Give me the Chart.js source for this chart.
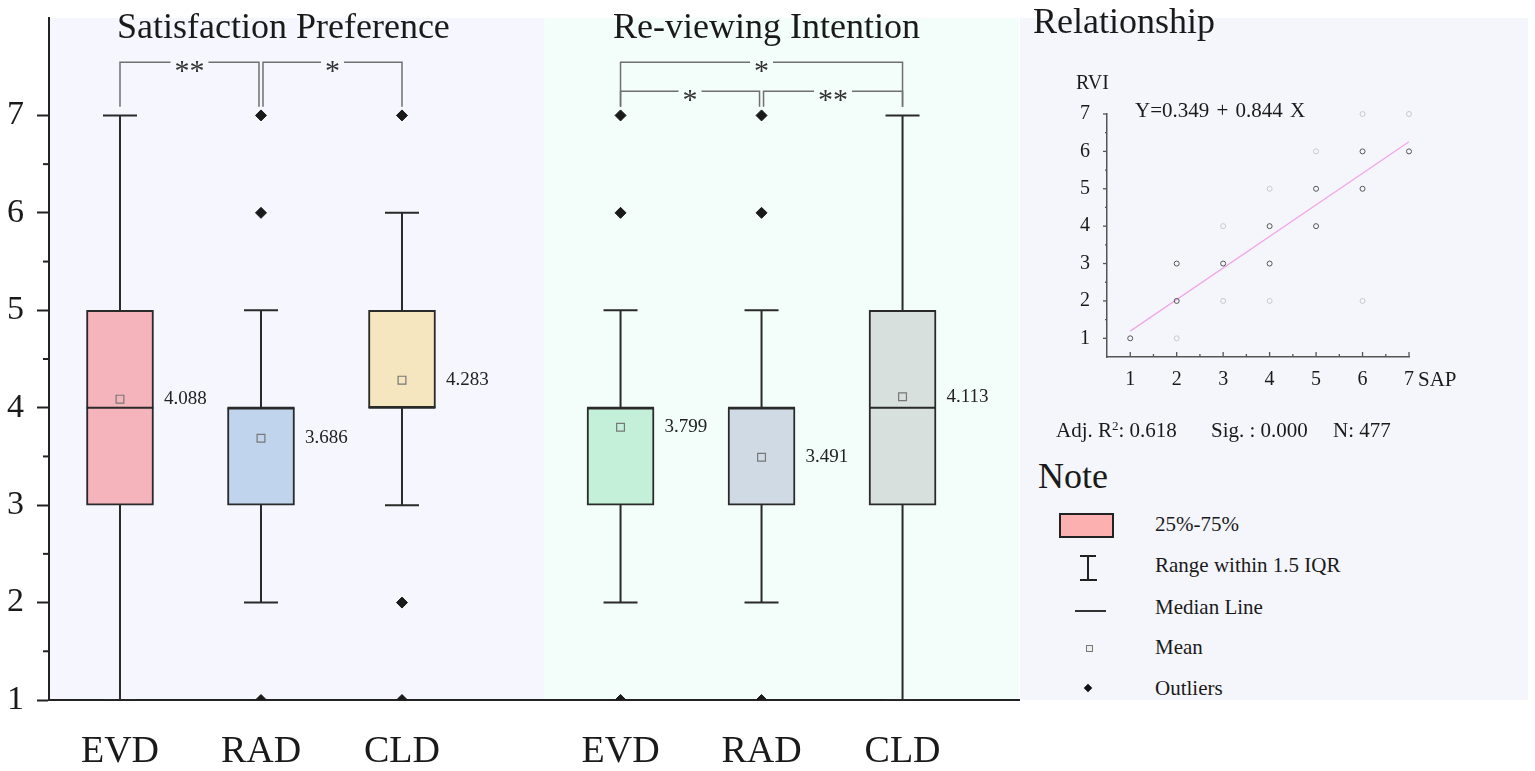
<!DOCTYPE html>
<html>
<head>
<meta charset="utf-8">
<script src="https://cdn.jsdelivr.net/npm/chart.js@4.4.0/dist/chart.umd.min.js"></script>
<style>
body { margin:0; background:#fff; }
#wrap { position:relative; width:1535px; height:771px; overflow:hidden; font-family:"Liberation Serif","Times New Roman",serif; color:#1a1a1a; }
#wrap canvas { position:absolute; }
.t { position:absolute; line-height:1; white-space:pre; }
.bg { position:absolute; }
</style>
</head>
<body>
<div id="wrap">
  <div class="bg" style="left:1020px;top:18px;width:508px;height:682px;background:#F5F6FC"></div>
  <canvas id="main" width="1020" height="771" style="left:0;top:0"></canvas>
  <canvas id="rel" width="508" height="380" style="left:1020px;top:40px"></canvas>

  <div class="t" style="left:117px;top:8px;font-size:36px">Satisfaction Preference</div>
  <div class="t" style="left:613px;top:8px;font-size:36px">Re-viewing Intention</div>
  <div class="t" style="left:1033px;top:3px;font-size:36px">Relationship</div>

  <div class="t" style="left:1076px;top:72px;font-size:20px">RVI</div>
  <div class="t" style="left:1135px;top:100px;font-size:21px;word-spacing:2px">Y=0.349 + 0.844 X</div>
  <div class="t" style="left:1418px;top:369px;font-size:21px">SAP</div>

  <div class="t" style="left:1056px;top:420px;font-size:21px">Adj. R<sup style="font-size:13px;vertical-align:7px;line-height:0">2</sup>: 0.618</div>
  <div class="t" style="left:1211px;top:420px;font-size:21px">Sig. : 0.000</div>
  <div class="t" style="left:1333px;top:420px;font-size:21px">N: 477</div>

  <div class="t" style="left:1038px;top:458px;font-size:36px">Note</div>

  <div class="bg" style="left:1059px;top:513px;width:55px;height:25px;background:#FCB0B0;border:2px solid #222;box-sizing:border-box"></div>
  <div class="bg" style="left:1087px;top:555px;width:2px;height:26px;background:#222"></div>
  <div class="bg" style="left:1080px;top:555px;width:16px;height:2px;background:#222"></div>
  <div class="bg" style="left:1080px;top:579px;width:17px;height:2px;background:#222"></div>
  <div class="bg" style="left:1075px;top:610px;width:31px;height:2px;background:#333"></div>
  <div class="bg" style="left:1086px;top:645px;width:7px;height:7px;background:#eee;border:1px solid #777;box-sizing:border-box"></div>
  <div class="bg" style="left:1085px;top:685px;width:6px;height:6px;background:#111;transform:rotate(45deg)"></div>

  <div class="t" style="left:1155px;top:514px;font-size:21px">25%-75%</div>
  <div class="t" style="left:1155px;top:555px;font-size:21px">Range within 1.5 IQR</div>
  <div class="t" style="left:1155px;top:597px;font-size:21px">Median Line</div>
  <div class="t" style="left:1155px;top:637px;font-size:21px">Mean</div>
  <div class="t" style="left:1155px;top:678px;font-size:21px">Outliers</div>
</div>
<script>
// box plot data
const categories = ['EVD', 'RAD', 'CLD', 'EVD', 'RAD', 'CLD'];
const whiskerLow = [1, 2, 3, 2, 2, 1];
const q1 = [3, 3, 4, 3, 3, 3];
const medians = [4, 4, 4, 4, 4, 4];
const q3 = [5, 4, 5, 4, 4, 5];
const whiskerHigh = [7, 5, 6, 5, 5, 7];
const means = [4.088, 3.686, 4.283, 3.799, 3.491, 4.113];
const outliers = [[], [1, 6, 7], [1, 2, 7], [1, 6, 7], [1, 6, 7], []];
const boxColors = ['#F5B4BC', '#C0D4EE', '#F6E6C0', '#C4F0DA', '#D0DAE4', '#D8E0DE'];
const yTicks = [1, 2, 3, 4, 5, 6, 7];

// significance brackets
const sigFrom = [0, 1, 3, 3, 4];
const sigTo = [1, 2, 5, 4, 5];
const sigStars = ['**', '*', '*', '*', '**'];
const sigLevel = [1, 1, 1, 0, 0];

// relationship scatter
const darkX = [1, 2, 2, 3, 4, 4, 5, 5, 6, 6, 7];
const darkY = [1, 2, 3, 3, 3, 4, 4, 5, 5, 6, 6];
const lightX = [2, 3, 3, 4, 4, 5, 6, 6, 7];
const lightY = [1, 2, 4, 2, 5, 6, 2, 7, 7];
const regX = [1, 7];
const regY = [1.193, 6.257];
const relTicks = [1, 2, 3, 4, 5, 6, 7];

Chart.defaults.font.family = '"Liberation Serif", "Times New Roman", serif';
Chart.defaults.color = '#1a1a1a';

const X_MIN = 0.4965, X_MAX = 7.376;
const UNIT_PX = 970 / (X_MAX - X_MIN);
const boxHalf = 33.5 / UNIT_PX;
const capHalf = 17 / UNIT_PX;
const PANEL_SPLIT = 4.01;
const xPos = categories.map((c, i) => i + 1 + (i >= 3 ? 0.55 : 0));

let stems = [], caps = [], medLines = [], outPts = [];
xPos.forEach((x, i) => {
  stems.push({x, y: whiskerLow[i]}, {x, y: whiskerHigh[i]}, {x, y: null});
  caps.push({x: x - capHalf, y: whiskerHigh[i]}, {x: x + capHalf, y: whiskerHigh[i]}, {x, y: null});
  caps.push({x: x - capHalf, y: whiskerLow[i]}, {x: x + capHalf, y: whiskerLow[i]}, {x, y: null});
  medLines.push({x: x - boxHalf, y: medians[i]}, {x: x + boxHalf, y: medians[i]}, {x, y: null});
  outliers[i].forEach(v => outPts.push({x, y: v}));
});

const lineStyle = {type: 'line', borderColor: '#2a2a2a', borderWidth: 2, pointRadius: 0, spanGaps: false, tension: 0};

// no label padding around the axes, the layout is fixed
const noPad = s => { s.paddingTop = 0; s.paddingBottom = 0; s.paddingLeft = 0; s.paddingRight = 0; };

const panelPlugin = {
  id: 'panels',
  beforeDraw(chart) {
    const {ctx, chartArea: a, scales: {x}} = chart;
    const split = x.getPixelForValue(PANEL_SPLIT);
    ctx.save();
    ctx.fillStyle = '#F5F6FE';
    ctx.fillRect(a.left, a.top, split - a.left, a.bottom - a.top);
    ctx.fillStyle = '#F3FDFA';
    ctx.fillRect(split, a.top, a.right - split, a.bottom - a.top);
    ctx.restore();
  }
};

const notePlugin = {
  id: 'notes',
  afterDatasetsDraw(chart) {
    const {ctx, scales: {x, y}} = chart;
    ctx.save();
    // mean labels
    ctx.font = '19px "Liberation Serif", serif';
    ctx.fillStyle = '#222';
    ctx.textBaseline = 'middle';
    ctx.textAlign = 'left';
    means.forEach((m, i) => {
      ctx.fillText(m.toFixed(3), x.getPixelForValue(xPos[i]) + 44, y.getPixelForValue(m));
    });
    // brackets
    ctx.strokeStyle = '#707070';
    ctx.lineWidth = 1.5;
    ctx.font = '30px "Liberation Serif", serif';
    ctx.textAlign = 'center';
    ctx.textBaseline = 'alphabetic';
    const yBot = y.getPixelForValue(7.09);
    sigFrom.forEach((f, k) => {
      const t = sigTo[k];
      let x1 = x.getPixelForValue(xPos[f]);
      let x2 = x.getPixelForValue(xPos[t]);
      if (sigFrom.some((ff, j) => j !== k && ff === t && sigLevel[j] === sigLevel[k])) x2 -= 2;
      if (sigTo.some((tt, j) => j !== k && tt === f && sigLevel[j] === sigLevel[k])) x1 += 2;
      const yTop = y.getPixelForValue(7.247 + 0.298 * sigLevel[k]);
      const mid = (x1 + x2) / 2;
      const half = ctx.measureText(sigStars[k]).width / 2 + 4;
      ctx.beginPath();
      ctx.moveTo(x1, yBot); ctx.lineTo(x1, yTop); ctx.lineTo(mid - half, yTop);
      ctx.moveTo(mid + half, yTop); ctx.lineTo(x2, yTop); ctx.lineTo(x2, yBot);
      ctx.stroke();
      ctx.fillStyle = '#333';
      ctx.fillText(sigStars[k], mid, yTop + 18);
    });
    ctx.restore();
  },
  afterDraw(chart) {
    const {ctx, scales: {y}} = chart;
    ctx.save();
    ctx.strokeStyle = '#222';
    ctx.lineWidth = 2;
    for (let v = 1.5; v < 7; v += 1) {
      const py = y.getPixelForValue(v);
      ctx.beginPath(); ctx.moveTo(y.right - 6, py); ctx.lineTo(y.right, py); ctx.stroke();
    }
    ctx.restore();
  }
};

new Chart(document.getElementById('main'), {
  type: 'bar',
  data: {
    datasets: [
      Object.assign({}, lineStyle, {data: stems, order: 3}),
      Object.assign({}, lineStyle, {data: caps, order: 3}),
      {
        type: 'bar', order: 2,
        data: xPos.map((x, i) => ({x, y: [q1[i], q3[i]]})),
        backgroundColor: boxColors, borderColor: '#2a2a2a', borderWidth: 2,
        borderSkipped: false, barThickness: 67
      },
      Object.assign({}, lineStyle, {data: medLines, order: 1}),
      {
        type: 'line', showLine: false, order: 1,
        data: xPos.map((x, i) => ({x, y: means[i]})),
        pointStyle: 'rect', pointRadius: 5.5,
        pointBackgroundColor: boxColors, pointBorderColor: '#777', pointBorderWidth: 1.2
      },
      {
        type: 'line', showLine: false, order: 0, clip: 0,
        data: outPts, pointStyle: 'rectRot', pointRadius: 5.5,
        pointBackgroundColor: '#1a1a1a', pointBorderColor: '#1a1a1a', pointBorderWidth: 1
      }
    ]
  },
  options: {
    responsive: false,
    animation: false,
    layout: {autoPadding: false, padding: {top: 18, right: 1, left: 0, bottom: 0}},
    plugins: {legend: {display: false}, tooltip: {enabled: false}},
    scales: {
      x: {
        type: 'linear', min: X_MIN, max: X_MAX, offset: false,
        afterBuildTicks: s => { s.ticks = xPos.map(v => ({value: v})); },
        afterFit: s => { s.height = 71; noPad(s); },
        grid: {drawOnChartArea: false, drawTicks: false, offset: false},
        border: {color: '#222', width: 2},
        ticks: {autoSkip: false, maxRotation: 0, padding: 29, font: {size: 38}, callback: (v, i) => categories[i]}
      },
      y: {
        min: 1, max: 8,
        afterBuildTicks: s => { s.ticks = yTicks.map(v => ({value: v})); },
        afterFit: s => { s.width = 49; noPad(s); },
        grid: {drawOnChartArea: false, tickLength: 12, tickColor: '#222', tickWidth: 2},
        border: {color: '#222', width: 2},
        ticks: {padding: 13, font: {size: 34}}
      }
    }
  },
  plugins: [panelPlugin, notePlugin]
});

const relTickPlugin = {
  id: 'relTicks',
  afterDraw(chart) {
    const {ctx, scales: {x, y}} = chart;
    ctx.save();
    ctx.strokeStyle = '#555';
    ctx.lineWidth = 1.3;
    for (let v = 1; v <= 7; v += 0.5) {
      const major = v % 1 === 0;
      const px = x.getPixelForValue(v);
      ctx.beginPath(); ctx.moveTo(px, x.top); ctx.lineTo(px, x.top - (major ? 5 : 3)); ctx.stroke();
      const py = y.getPixelForValue(v);
      ctx.beginPath(); ctx.moveTo(y.right, py); ctx.lineTo(y.right - (major ? 4 : 2), py); ctx.stroke();
    }
    ctx.restore();
  }
};

const relAxis = (size) => ({
  type: 'linear', min: 0.5, max: 7,
  afterBuildTicks: s => { s.ticks = relTicks.map(v => ({value: v})); },
  grid: {drawOnChartArea: false, drawTicks: false},
  border: {color: '#555', width: 1.5},
  ticks: {font: {size: 20}, padding: size}
});

new Chart(document.getElementById('rel'), {
  type: 'scatter',
  data: {
    datasets: [
      {
        data: regX.map((x, i) => ({x, y: regY[i]})), showLine: true, order: 3,
        borderColor: '#F0A8E8', borderWidth: 1.3, pointRadius: 0
      },
      {
        data: lightX.map((x, i) => ({x, y: lightY[i]})), order: 2, clip: false,
        pointRadius: 2.5, pointBorderColor: '#C8C8CC', pointBackgroundColor: 'rgba(0,0,0,0)', pointBorderWidth: 1
      },
      {
        data: darkX.map((x, i) => ({x, y: darkY[i]})), order: 1, clip: false,
        pointRadius: 2.5, pointBorderColor: '#555', pointBackgroundColor: 'rgba(0,0,0,0)', pointBorderWidth: 1
      }
    ]
  },
  options: {
    responsive: false,
    animation: false,
    layout: {autoPadding: false, padding: {top: 74, right: 119, left: 0, bottom: 0}},
    plugins: {legend: {display: false}, tooltip: {enabled: false}},
    scales: {
      x: Object.assign(relAxis(11), {afterFit: s => { s.height = 63; noPad(s); }}),
      y: Object.assign(relAxis(17), {afterFit: s => { s.width = 87; noPad(s); }})
    }
  },
  plugins: [relTickPlugin]
});
</script>
</body>
</html>
